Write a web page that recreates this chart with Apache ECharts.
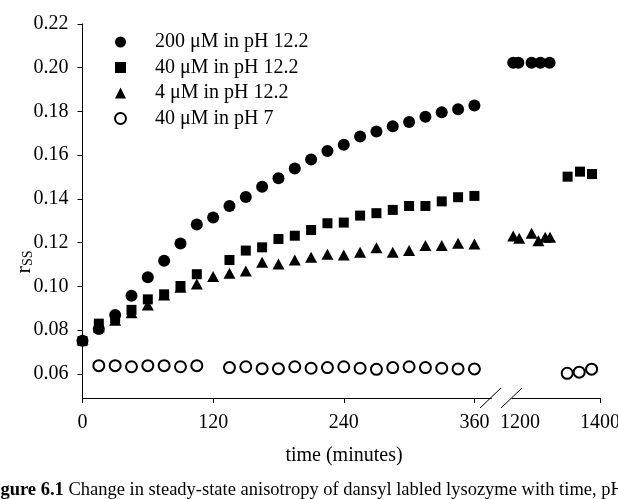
<!DOCTYPE html>
<html>
<head>
<meta charset="utf-8">
<script src="https://cdn.jsdelivr.net/npm/echarts@6/dist/echarts.min.js"></script>
<style>
  html, body { margin: 0; padding: 0; background: #fff; }
  #chart { width: 618px; height: 499px; }
</style>
</head>
<body>
<div id="chart"></div>
<script>
// times before the break (minutes)
var times = [0, 15, 30, 45, 60, 75, 90, 105, 120, 135, 150, 165, 180, 195, 210, 225, 240, 255, 270, 285, 300, 315, 330, 345, 360];

var r200 = [0.0752, 0.0805, 0.0870, 0.0958, 0.1042, 0.1118, 0.1196, 0.1283, 0.1315, 0.1368, 0.1409, 0.1456, 0.1495,
            0.1539, 0.1581, 0.1619, 0.1648, 0.1686, 0.1708, 0.1732, 0.1752, 0.1776, 0.1796, 0.1810, 0.1827];
var r40 = [0.0750, 0.0830, 0.0855, 0.0893, 0.0941, 0.0964, 0.1002, 0.1056, null, 0.1121, 0.1164, 0.1179, 0.1217,
           0.1232, 0.1258, 0.1289, 0.1292, 0.1324, 0.1335, 0.1350, 0.1368, 0.1368, 0.1389, 0.1408, 0.1414];
var r4 = [0.0760, 0.0815, 0.0845, 0.0880, 0.0915, 0.0961, 0.0996, 0.1011, 0.1045, 0.1060, 0.1071, 0.1111, 0.1103,
          0.1121, 0.1133, 0.1147, 0.1144, 0.1156, 0.1177, 0.1156, 0.1164, 0.1187, 0.1187, 0.1197, 0.1194];
var r40ph7 = [null, 0.0638, 0.0638, 0.0633, 0.0638, 0.0638, 0.0633, 0.0638, null, 0.0629, 0.0633, 0.0624, 0.0624,
              0.0633, 0.0626, 0.0629, 0.0633, 0.0626, 0.0621, 0.0629, 0.0633, 0.0629, 0.0626, 0.0623, 0.0623];

// after the break
var late200T = [1183, 1196, 1229, 1251, 1274];
var late200 = [0.2023, 0.2023, 0.2023, 0.2023, 0.2023];
var late40T = [1319, 1350, 1380];
var late40 = [0.1502, 0.1525, 0.1514];
var late4T = [1183, 1198, 1229, 1246, 1263, 1275];
var late4 = [0.1231, 0.1220, 0.1243, 0.1209, 0.1225, 0.1225];
var late7T = [1318, 1348, 1379];
var late7 = [0.0603, 0.0608, 0.0622];

var names = ['200 μM in pH 12.2', '40 μM in pH 12.2', '4 μM in pH 12.2', '40 μM in pH 7'];
var yTicks = [0.06, 0.08, 0.10, 0.12, 0.14, 0.16, 0.18, 0.20, 0.22];
var xTicksA = [0, 120, 240, 360];
var xLabelsB = [1200, 1400];
var xTicksB = [1400];

var font = 'Liberation Serif, Times New Roman, serif';

function pairs(t, v) {
	var out = [];
	for (var i = 0; i < t.length; i++) {
		if (v[i] != null) out.push([t[i], v[i]]);
	}
	return out;
}

var symbols = ['circle', 'rect', 'triangle', 'emptyCircle'];
var sizes = [12, 10, [12, 11], 11];
var early = [r200, r40, r4, r40ph7];
var lateT = [late200T, late40T, late4T, late7T];
var lateV = [late200, late40, late4, late7];

var series = [];
for (var k = 0; k < 4; k++) {
	var style = k == 3 ? { color: '#000', borderColor: '#000', borderWidth: 1.3, opacity: 1 } : { color: '#000', opacity: 1 };
	series.push({
		name: names[k], type: 'scatter', xAxisIndex: 0, yAxisIndex: 0,
		symbol: symbols[k], symbolSize: sizes[k], itemStyle: style,
		data: pairs(times, early[k])
	});
	series.push({
		name: names[k], type: 'scatter', xAxisIndex: 1, yAxisIndex: 1,
		symbol: symbols[k], symbolSize: sizes[k], itemStyle: style,
		data: pairs(lateT[k], lateV[k])
	});
}

var axisLine = { show: true, lineStyle: { color: '#000', width: 1 } };
var axisTick = { show: true, inside: false, length: 5, lineStyle: { color: '#000' } };

var myChart = echarts.init(document.getElementById('chart'));
var option = {
	backgroundColor: '#fff',
	animation: false,
	textStyle: { fontFamily: font, color: '#000' },
	grid: [
		{ left: 82.5, top: 24, width: 409, height: 374, containLabel: false, outerBoundsMode: 'none' },
		{ left: 512, top: 24, width: 88, height: 374, containLabel: false, outerBoundsMode: 'none' }
	],
	xAxis: [{
		gridIndex: 0, type: 'value', min: 0, max: 375.7,
		axisLine: axisLine,
		axisTick: Object.assign({ customValues: xTicksA }, axisTick),
		axisLabel: { customValues: xTicksA, margin: 15, fontSize: 20, fontFamily: font, color: '#000' },
		splitLine: { show: false }
	}, {
		gridIndex: 1, type: 'value', min: 1180, max: 1400,
		axisLine: axisLine,
		axisTick: Object.assign({ customValues: xTicksB }, axisTick),
		axisLabel: {
			customValues: xLabelsB, margin: 15, fontSize: 20, fontFamily: font, color: '#000', showMaxLabel: true,
			formatter: function (v) { return String(v); }
		},
		splitLine: { show: false }
	}],
	yAxis: [{
		gridIndex: 0, type: 'value', min: 0.049, max: 0.22,
		axisLine: axisLine,
		axisTick: Object.assign({ customValues: yTicks }, axisTick),
		axisLabel: {
			customValues: yTicks, margin: 14, fontSize: 20, fontFamily: font, color: '#000',
			formatter: function (v) { return v.toFixed(2); }
		},
		splitLine: { show: false }
	}, {
		gridIndex: 1, type: 'value', min: 0.049, max: 0.22, show: false,
		splitLine: { show: false }
	}],
	legend: {
		orient: 'vertical', left: 109, top: 27, itemWidth: 11, itemHeight: 11, itemGap: 5.5,
		data: names,
		itemStyle: { opacity: 1 },
		textStyle: { fontFamily: font, fontSize: 20, color: '#000', lineHeight: 20, padding: [0, 0, 0, 24] }
	},
	graphic: [
		// axis break marks
		{ type: 'line', shape: { x1: 480, y1: 408, x2: 501, y2: 388 }, style: { stroke: '#000', lineWidth: 1 } },
		{ type: 'line', shape: { x1: 501, y1: 408, x2: 522, y2: 388 }, style: { stroke: '#000', lineWidth: 1 } },
		{
			type: 'text', x: 344, y: 456,
			style: { text: 'time (minutes)', font: '20px ' + font, fill: '#000', textAlign: 'center', textVerticalAlign: 'middle' }
		},
		{
			type: 'text', x: 24, y: 262, rotation: Math.PI / 2,
			style: {
				text: '{r|r}{s|SS}', textAlign: 'center', textVerticalAlign: 'middle', fill: '#000',
				rich: {
					r: { fontFamily: font, fontSize: 22, fill: '#000' },
					s: { fontFamily: font, fontSize: 14, fill: '#000', padding: [8, 0, 0, 0] }
				}
			}
		},
		{
			type: 'text', x: -16, y: 490,
			style: {
				text: '{b|Figure 6.1} Change in steady-state anisotropy of dansyl labled lysozyme with time, pH',
				font: '18.5px ' + font, fill: '#000', textVerticalAlign: 'middle',
				rich: { b: { fontFamily: font, fontSize: 18.5, fontWeight: 'bold', fill: '#000' } }
			}
		}
	],
	series: series
};
myChart.setOption(option);
</script>
</body>
</html>
